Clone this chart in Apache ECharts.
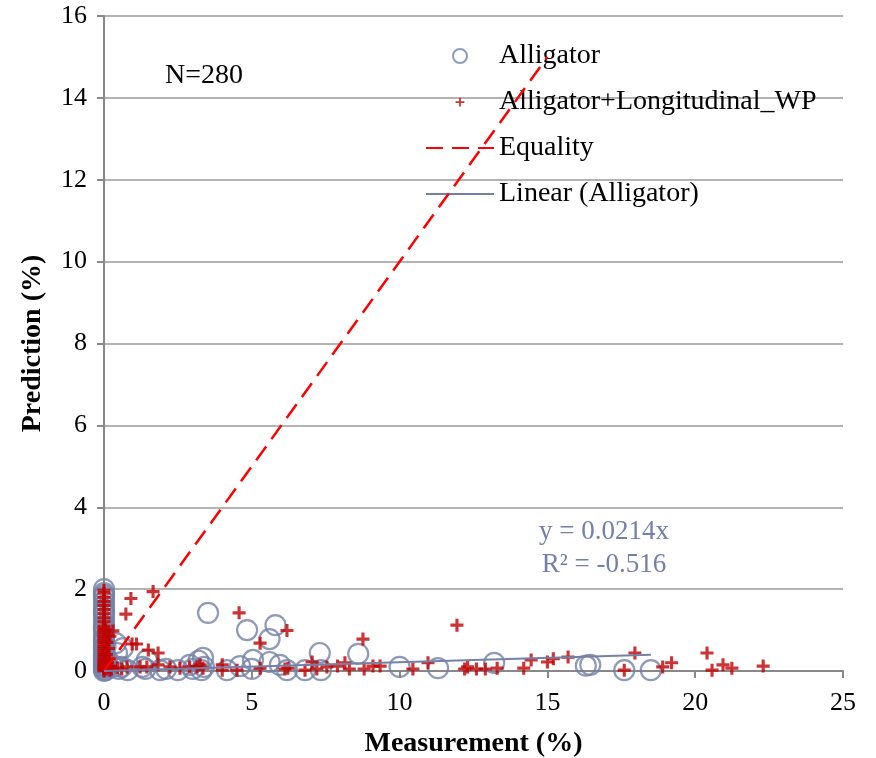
<!DOCTYPE html>
<html>
<head>
<meta charset="utf-8">
<script src="https://cdn.jsdelivr.net/npm/echarts@6/dist/echarts.min.js"></script>
<style>
html,body{margin:0;padding:0;background:#fff;}
#chart{width:876px;height:758px;}
</style>
</head>
<body>
<div id="chart"></div>
<script>
// ---- Data ----
var xTicks = [0, 5, 10, 15, 20, 25];
var yTicks = [0, 2, 4, 6, 8, 10, 12, 14, 16];

var alligatorX = [0,0,0,0,0,0,0,0,0,0,0,0,0,0,0,0,0,0,0,0,0,0,0,0,0,0,0,0,0,0,
  0.05,0.08,0.1,0.05,0.44,0.64,0.4,0.3,0.5,0.8,0.6,1.3,1.45,1.9,1.4,2.1,2.5,2.9,3.0,3.2,3.35,3.38,3.3,
  3.52,4.16,4.6,4.84,5.04,5.0,5.6,5.8,5.6,5.95,6.19,6.8,7.34,7.3,8.6,10.0,11.3,13.2,16.3,16.45,17.6,18.5];
var alligatorY = [0,0.05,0.1,0.15,0.2,0.25,0.3,0.35,0.4,0.5,0.55,0.6,0.7,0.75,0.8,0.9,1.0,1.05,1.1,1.2,1.3,1.4,1.45,1.5,1.6,1.7,1.8,1.85,1.9,2.0,
  0.02,0.1,0.3,0.6,0.44,0.56,0.68,0.1,0.05,0.02,0.1,0.1,0.27,0.02,0.05,0.05,0.02,0.15,0.05,0.25,0.32,0.1,0.02,
  1.42,0.02,0.12,1.0,0.27,0.05,0.78,1.12,0.22,0.15,0.02,0.02,0.02,0.44,0.42,0.1,0.07,0.2,0.13,0.15,0.02,0.02];

var plusX = [0,0,0,0,0,0,0,0,0,0,0,0,0,0,0,0,0,0,0,0,0,0,0,0,0,0,0,0,0,0,0,0,0,0,0,
  0.1,0.15,0.2,0.12,0.08,0.1,0.05,0.22,0.18,0.25,0.15,0.2,
  0.3,0.91,1.66,0.74,0.95,1.1,1.5,1.83,0.45,0.6,0.78,1.22,1.45,1.83,2.23,2.57,2.9,3.15,3.25,3.35,
  4.0,4.0,4.5,4.57,5.28,6.19,5.28,6.12,6.22,6.8,7.04,7.2,7.54,7.9,8.15,8.3,8.76,8.8,9.1,9.34,
  10.45,10.96,11.94,12.2,12.3,12.6,12.9,13.3,14.2,14.45,15.0,15.2,15.7,17.6,17.96,18.9,19.2,20.4,20.57,20.94,21.24,22.3];
var plusY = [0,0.03,0.06,0.09,0.12,0.15,0.18,0.22,0.26,0.3,0.35,0.4,0.45,0.5,0.55,0.6,0.65,0.7,0.75,0.8,0.85,0.9,0.95,1.0,1.05,1.1,1.2,1.3,1.4,1.5,1.6,1.7,1.8,1.9,1.97,
  0.05,0.1,0.02,0.2,0.4,0.7,1.0,0.12,0.3,0.05,0.55,0.85,
  0.98,1.77,1.94,1.39,0.66,0.66,0.51,0.44,0.08,0.05,0.1,0.1,0.1,0.15,0.1,0.07,0.1,0.1,0.15,0.07,
  0.15,0.02,0.02,1.42,0.68,0.99,0.07,0.05,0.07,0.02,0.22,0.05,0.1,0.12,0.2,0.05,0.78,0.05,0.12,0.12,
  0.05,0.2,1.12,0.05,0.1,0.05,0.05,0.07,0.07,0.27,0.22,0.3,0.34,0.02,0.44,0.1,0.2,0.44,0.02,0.15,0.07,0.12];

var equalityX = [0, 15];
var equalityY = [0, 15];
var trendX = [0, 18.5];
var trendY = [0, 0.396];

var seriesNames = ['Alligator', 'Alligator+Longitudinal_WP', 'Equality', 'Linear (Alligator)'];
var annotationEq = 'y = 0.0214x';
var annotationR2 = 'R² = -0.516';
var annotationN = 'N=280';

function pairs(xs, ys) { return xs.map(function (x, i) { return [x, ys[i]]; }); }

var FONT = '"Liberation Serif", "Times New Roman", serif';
var PLUS = 'path://M3.8,0H6.2V3.8H10V6.2H6.2V10H3.8V6.2H0V3.8H3.8Z';
var PLUS_LEGEND = 'path://M-3,-3M13,13M4,0H6V4H10V6H6V10H4V6H0V4H4Z';
var HIDDEN = {color: 'rgba(0,0,0,0)', borderWidth: 0, opacity: 0};

var chart = echarts.init(document.getElementById('chart'), null, {renderer: 'canvas'});
chart.setOption({
  animation: false,
  backgroundColor: '#fff',
  grid: {left: 104, right: 33, top: 16, bottom: 87, containLabel: false, outerBoundsMode: 'none'},
  xAxis: {
    type: 'value', min: xTicks[0], max: xTicks[xTicks.length - 1], interval: 5,
    name: 'Measurement (%)', nameLocation: 'middle', nameGap: 59,
    nameTextStyle: {fontFamily: FONT, fontSize: 28, fontWeight: 'bold', color: '#000'},
    axisLine: {show: true, lineStyle: {color: '#888', width: 2}},
    axisTick: {show: true, inside: false, length: 7, lineStyle: {color: '#888', width: 2}},
    axisLabel: {fontFamily: FONT, fontSize: 26, color: '#000', margin: 19},
    splitLine: {show: false}
  },
  yAxis: {
    type: 'value', min: yTicks[0], max: yTicks[yTicks.length - 1], interval: 2,
    name: 'Prediction (%)', nameLocation: 'middle', nameGap: 57,
    nameTextStyle: {fontFamily: FONT, fontSize: 28, fontWeight: 'bold', color: '#000'},
    axisLine: {show: true, lineStyle: {color: '#888', width: 2}},
    axisTick: {show: true, inside: false, length: 7, lineStyle: {color: '#888', width: 2}},
    axisLabel: {fontFamily: FONT, fontSize: 26, color: '#000', margin: 17},
    splitLine: {show: true, lineStyle: {color: '#9a9a9a', width: 1.5}}
  },
  legend: {
    orient: 'vertical', left: 425, top: 41, padding: 0,
    itemWidth: 68, itemHeight: 14, itemGap: 16,
    textStyle: {fontFamily: FONT, fontSize: 28, color: '#000', lineHeight: 30},
    data: [
      {name: seriesNames[0]},
      {name: seriesNames[1], icon: PLUS_LEGEND},
      {name: seriesNames[2], itemStyle: HIDDEN},
      {name: seriesNames[3], itemStyle: HIDDEN}
    ]
  },
  graphic: [
    {type: 'text', style: {x: 165, y: 76, text: annotationN, font: '28px ' + FONT, fill: '#000', verticalAlign: 'middle'}},
    {type: 'text', style: {x: 604, y: 532, text: annotationEq, font: '27px ' + FONT, fill: '#7380a8', align: 'center', verticalAlign: 'middle'}},
    {type: 'text', style: {x: 604, y: 565, text: annotationR2, font: '27px ' + FONT, fill: '#7380a8', align: 'center', verticalAlign: 'middle'}}
  ],
  series: [
    {
      name: seriesNames[0], type: 'scatter', symbol: 'circle', symbolSize: 20,
      itemStyle: {color: 'rgba(255,255,255,0)', borderColor: '#7381a8', borderWidth: 2.2},
      data: pairs(alligatorX, alligatorY), z: 2
    },
    {
      name: seriesNames[1], type: 'scatter', symbol: PLUS, symbolSize: 13,
      itemStyle: {color: '#c00000'},
      data: pairs(plusX, plusY), z: 3
    },
    {
      name: seriesNames[2], type: 'line', symbol: 'none', showSymbol: false,
      lineStyle: {color: '#ff0000', width: 2.5, type: [17, 9]},
      itemStyle: {color: '#ff0000'},
      data: pairs(equalityX, equalityY), z: 4
    },
    {
      name: seriesNames[3], type: 'line', symbol: 'none', showSymbol: false,
      lineStyle: {color: '#7381a8', width: 2},
      itemStyle: {color: '#7381a8'},
      data: pairs(trendX, trendY), z: 4
    }
  ]
});
</script>
</body>
</html>
